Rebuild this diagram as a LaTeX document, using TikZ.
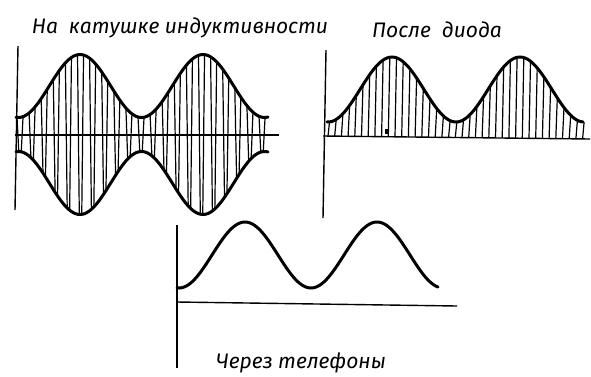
\documentclass[tikz,border=0pt]{standalone}
\usepackage{fontspec}
\setmainfont{Fira Sans}
\begin{document}
\begin{tikzpicture}[x=1pt,y=-1pt,
  env/.style={line width=3pt,line cap=round,line join=round},
  axis/.style={line width=1.4pt},
  carrier/.style={line width=1.2pt},
  title/.style={font=\fontsize{21}{25}\selectfont\itshape,inner sep=0pt,anchor=base}]
\useasboundingbox (0,0) rectangle (591,376);
% ---- panel 1
\draw[axis] (18,46) -- (15,210);
\draw[axis] (15,135) -- (279,135);
\foreach \i in {0,...,41}{
  \pgfmathsetmacro{\xa}{17+6.05*\i}
  \pgfmathsetmacro{\xb}{\xa+1.8*cos(180*\i)}
  \draw[carrier] (\xa,{134.5-(48.5+31.5*cos(2.9268*(\xa-80)))}) -- (\xb,{134.5+(48.5+31.5*cos(2.9268*(\xb-80)))});
}
\draw[env] plot[domain=16:268,samples=120] (\x,{134.5-(48.5+31.5*cos(2.9268*(\x-80)))});
\draw[env] plot[domain=16:268,samples=120] (\x,{134.5+(48.5+31.5*cos(2.9268*(\x-80)))});
\node[title] (t1) at (180,33) {На\ \ катушке индуктивности};
% ---- panel 2
\draw[axis] (326,50) -- (323,218);
\draw[axis] (323,136) -- (590,139);
\foreach \i in {0,...,38}{
  \pgfmathsetmacro{\xa}{328+6.7*\i}
  \pgfmathsetmacro{\xb}{\xa+1.5}
  \draw[carrier] (\xa,{136+0.011*(\xa-325)}) -- (\xb,{89.5-32.5*cos(2.8125*(\xb-392))});
}
\draw[env] plot[domain=327:583,samples=120] (\x,{89.5-32.5*cos(2.8125*(\x-392))});
\fill (385,129) rectangle (389,134);
\node[title] (t2) at (437,37) {После\ \ диода};
% ---- panel 3
\draw[axis] (177,225) -- (177,368);
\draw[axis] (177,302) -- (457,306);
\draw[env] plot[domain=177:438,samples=120] (\x,{255-33*cos(2.7273*(\x-245))});
\node[title] (t3) at (301,368) {Через телефоны};
\end{tikzpicture}
\end{document}
